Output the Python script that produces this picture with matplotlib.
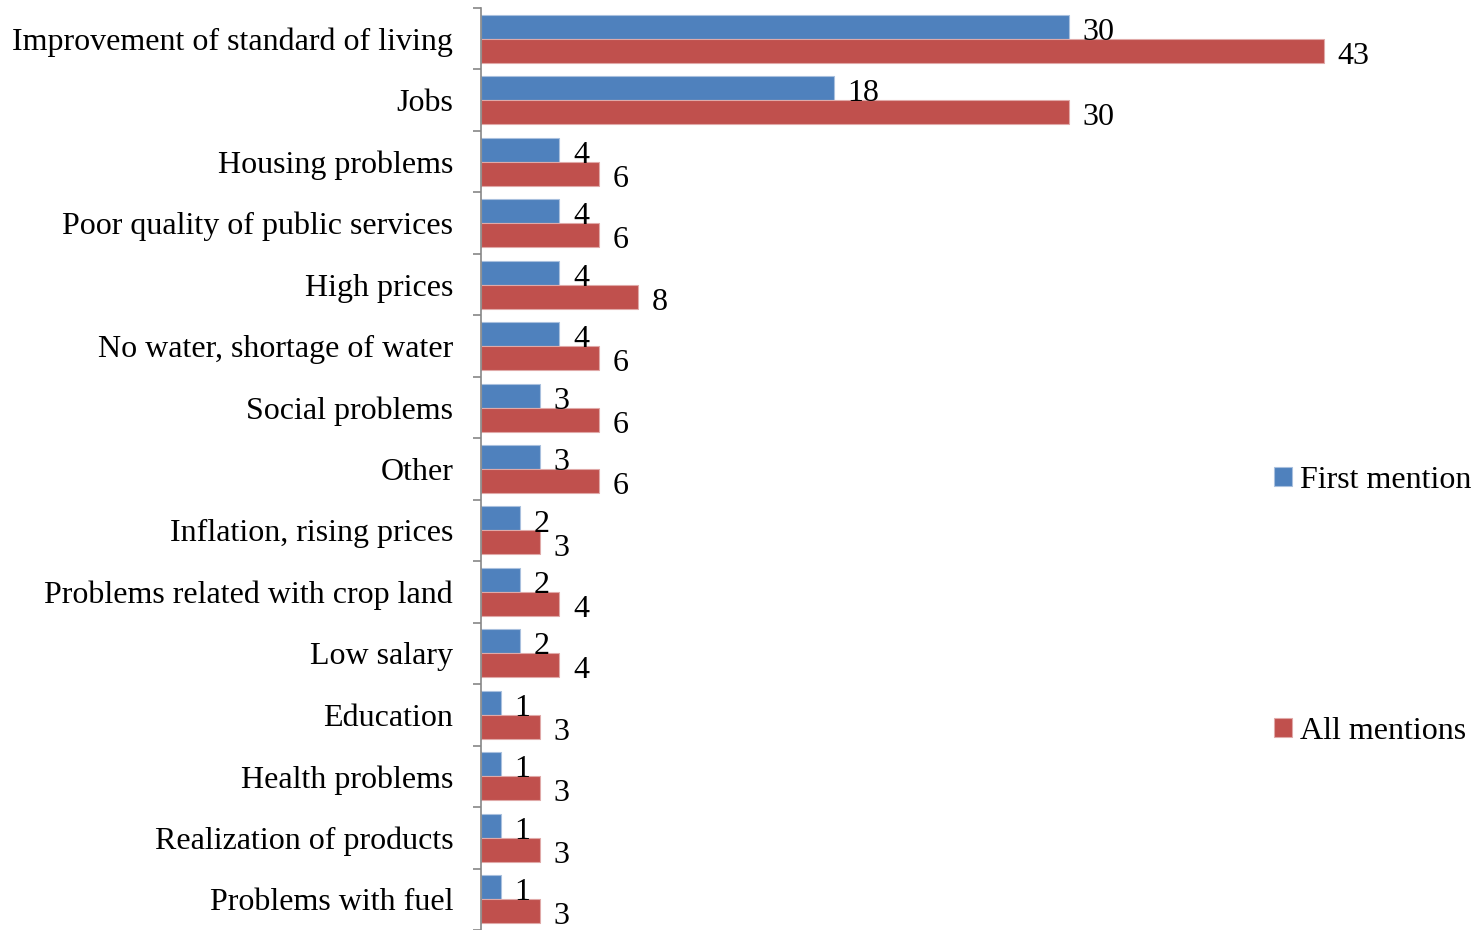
import numpy as np
import matplotlib.pyplot as plt

plt.rcParams["font.family"] = ["Liberation Serif", "DejaVu Serif"]

categories = [
    "Improvement of standard of living",
    "Jobs",
    "Housing problems",
    "Poor quality of public services",
    "High prices",
    "No water, shortage of water",
    "Social problems",
    "Other",
    "Inflation, rising prices",
    "Problems related with crop land",
    "Low salary",
    "Education",
    "Health problems",
    "Realization of products",
    "Problems with fuel",
]
first_mention = [30, 18, 4, 4, 4, 4, 3, 3, 2, 2, 2, 1, 1, 1, 1]
all_mentions = [43, 30, 6, 6, 8, 6, 6, 6, 3, 4, 4, 3, 3, 3, 3]

BLUE, RED = "#4F81BD", "#C0504D"
FS = 23

W, H = 1474, 930
fig = plt.figure(figsize=(W / 100, H / 100), dpi=100)
ax = fig.add_axes([481 / W, 0.0, 980 / W, 1 - 8 / H])

y = np.arange(len(categories))
h = 0.39
b1 = ax.barh(y - h / 2, first_mention, height=h, color=BLUE,
             edgecolor="#A9C0DE", linewidth=0.8, label="First mention")
b2 = ax.barh(y + h / 2, all_mentions, height=h, color=RED,
             edgecolor="#E0A9A8", linewidth=0.8, label="All mentions")

for bars, vals in ((b1, first_mention), (b2, all_mentions)):
    for bar, v in zip(bars, vals):
        ax.annotate(f"{v}", (bar.get_width(), bar.get_y() + bar.get_height() / 2),
                    xytext=(10, -4), textcoords="offset points",
                    ha="left", va="center", fontsize=FS)

ax.set_xlim(0, 50)
ax.set_ylim(len(categories) - 0.5, -0.5)
ax.set_yticks(y)
ax.set_yticklabels(categories, fontsize=FS)
ax.set_yticks(np.arange(len(categories) + 1) - 0.5, minor=True)
ax.tick_params(axis="y", which="major", length=0, pad=20)
ax.tick_params(axis="y", which="minor", length=6, width=1.2, color="#868686")
ax.set_xticks([])
for s in ("top", "right", "bottom"):
    ax.spines[s].set_visible(False)
ax.spines["left"].set_color("#868686")
ax.spines["left"].set_linewidth(1.2)

fig.legend(handles=[b1, b2], loc="upper left", bbox_to_anchor=(1274 / W, 1 - 466 / H),
           frameon=False, fontsize=FS, handlelength=0.55, handleheight=0.55,
           handletextpad=0.25, labelspacing=6.95, borderpad=0, borderaxespad=0)

fig.savefig("out.png", dpi=100)
